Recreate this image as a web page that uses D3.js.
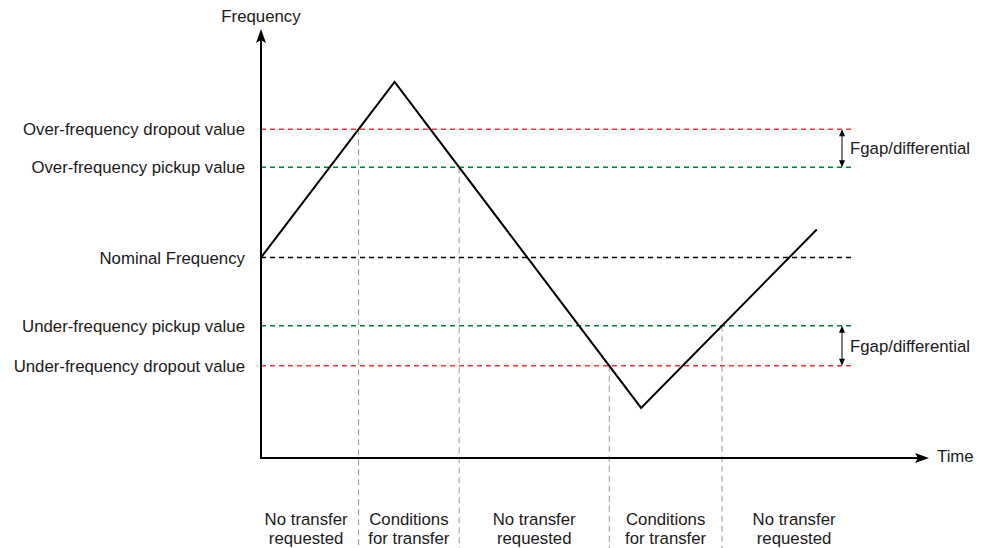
<!DOCTYPE html>
<html>
<head>
<meta charset="utf-8">
<script src="https://cdn.jsdelivr.net/npm/d3@7"></script>
<style>
  body { margin: 0; background: #fff; }
  svg { display: block; font-family: 'Liberation Sans', Arial, sans-serif; }
</style>
</head>
<body>
<svg width="988" height="548"></svg>
<script>
// frequency path over time (time in arbitrary units, frequency in Hz)
const pathTimes = [0, 20, 56.9, 83.2]
const pathFreqs = [50, 54.38, 46.25, 50.7]

// threshold levels
const levelNames = [
  'Over-frequency dropout value',
  'Over-frequency pickup value',
  'Nominal Frequency',
  'Under-frequency pickup value',
  'Under-frequency dropout value'
]
const levelValues = [53.2, 52.25, 50, 48.3, 47.3]
const levelColors = ['#ff3333', '#00803c', '#000000', '#00803c', '#ff3333']

// which thresholds mark the start/end of each zone (index into levels, segment of path)
const transitionLevels = [0, 1, 4, 3]
const transitionSegments = [0, 1, 1, 2]

const zoneLabels = [
  ['No transfer', 'requested'],
  ['Conditions', 'for transfer'],
  ['No transfer', 'requested'],
  ['Conditions', 'for transfer'],
  ['No transfer', 'requested']
]
const zoneStart = -1.1
const zoneEnd = 90.6
const levelLineEnd = 88.5
const gapPairs = [[0, 1], [3, 4]]

const svg = d3.select('svg')
const x = d3.scaleLinear().domain([0, 100]).range([261, 929])
const y = d3.scaleLinear().domain([45, 55.7]).range([458, 29])
const textColor = '#1a1a1a'
const fontSize = 16.8

// crossing time of path segment with a level
function crossing (seg, f) {
  const t0 = pathTimes[seg]; const t1 = pathTimes[seg + 1]
  const f0 = pathFreqs[seg]; const f1 = pathFreqs[seg + 1]
  return t0 + (f - f0) / (f1 - f0) * (t1 - t0)
}
const transitions = transitionLevels.map((l, i) => crossing(transitionSegments[i], levelValues[l]))

// vertical grey dashed dividers
svg.append('g')
  .selectAll('line')
  .data(transitions)
  .enter()
  .append('line')
  .attr('x1', d => x(d)).attr('x2', d => x(d))
  .attr('y1', (d, i) => y(levelValues[transitionLevels[i]]))
  .attr('y2', 548)
  .attr('stroke', '#999')
  .attr('stroke-width', 1)
  .attr('stroke-dasharray', '6,4')

// level lines
svg.append('g')
  .selectAll('line')
  .data(levelValues)
  .enter()
  .append('line')
  .attr('x1', x(0)).attr('x2', x(levelLineEnd))
  .attr('y1', d => y(d)).attr('y2', d => y(d))
  .attr('stroke', (d, i) => levelColors[i])
  .attr('stroke-width', 1.5)
  .attr('stroke-dasharray', '5,4')

// level labels
svg.append('g')
  .selectAll('text')
  .data(levelNames)
  .enter()
  .append('text')
  .attr('x', 245)
  .attr('y', (d, i) => y(levelValues[i]) + 6)
  .attr('text-anchor', 'end')
  .attr('font-size', fontSize)
  .attr('fill', textColor)
  .text(d => d)

// frequency path
const line = d3.line().x(d => x(d[0])).y(d => y(d[1]))
svg.append('path')
  .datum(pathTimes.map((t, i) => [t, pathFreqs[i]]))
  .attr('d', line)
  .attr('fill', 'none')
  .attr('stroke', '#000')
  .attr('stroke-width', 2)

// axes
const x0 = x(0); const y0 = y(45)
svg.append('line')
  .attr('x1', x0).attr('x2', x0).attr('y1', y0).attr('y2', y(55.7) + 10)
  .attr('stroke', '#000').attr('stroke-width', 2)
svg.append('line')
  .attr('x1', x0 - 1).attr('x2', x(100) - 10).attr('y1', y0).attr('y2', y0)
  .attr('stroke', '#000').attr('stroke-width', 2)

const yt = y(55.7)
svg.append('path')
  .attr('d', `M${x0},${yt} L${x0 + 5},${yt + 14} L${x0},${yt + 11} L${x0 - 5},${yt + 14} Z`)
  .attr('fill', '#000')
const xt = x(100)
svg.append('path')
  .attr('d', `M${xt},${y0} L${xt - 14},${y0 - 5} L${xt - 11},${y0} L${xt - 14},${y0 + 5} Z`)
  .attr('fill', '#000')

svg.append('text')
  .attr('x', x0).attr('y', 22)
  .attr('text-anchor', 'middle')
  .attr('font-size', fontSize)
  .attr('fill', textColor)
  .text('Frequency')
svg.append('text')
  .attr('x', xt + 8).attr('y', 462)
  .attr('font-size', fontSize)
  .attr('fill', textColor)
  .text('Time')

// gap arrows
const gx = 842
const gap = svg.append('g')
  .selectAll('g')
  .data(gapPairs)
  .enter()
  .append('g')
gap.append('line')
  .attr('x1', gx).attr('x2', gx)
  .attr('y1', d => y(levelValues[d[0]]) + 2)
  .attr('y2', d => y(levelValues[d[1]]) - 2)
  .attr('stroke', '#000').attr('stroke-width', 1)
gap.append('path')
  .attr('d', d => {
    const a = y(levelValues[d[0]]); const b = y(levelValues[d[1]])
    return `M${gx},${a} L${gx + 3},${a + 7} L${gx - 3},${a + 7} Z M${gx},${b} L${gx + 3},${b - 7} L${gx - 3},${b - 7} Z`
  })
  .attr('fill', '#000')
gap.append('text')
  .attr('x', 850)
  .attr('y', d => (y(levelValues[d[0]]) + y(levelValues[d[1]])) / 2 + 6)
  .attr('font-size', fontSize)
  .attr('fill', textColor)
  .text('Fgap/differential')

// zone labels
const bounds = [zoneStart, ...transitions, zoneEnd]
const zone = svg.append('g')
  .selectAll('text')
  .data(zoneLabels)
  .enter()
  .append('text')
  .attr('text-anchor', 'middle')
  .attr('font-size', fontSize)
  .attr('fill', textColor)
zone.selectAll('tspan')
  .data((d, i) => d.map(s => ({ s, cx: x((bounds[i] + bounds[i + 1]) / 2) })))
  .enter()
  .append('tspan')
  .attr('x', d => d.cx)
  .attr('y', (d, j) => 525 + j * 19)
  .text(d => d.s)
</script>
</body>
</html>
